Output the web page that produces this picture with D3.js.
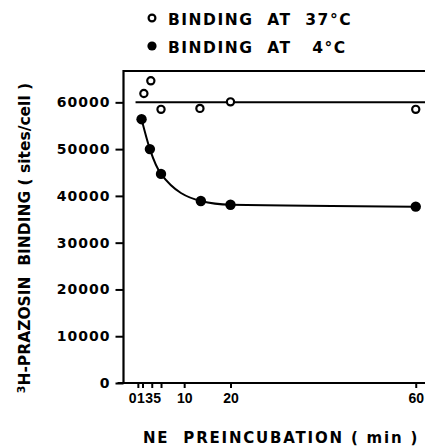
<!DOCTYPE html>
<html>
<head>
<meta charset="utf-8">
<script src="https://cdn.jsdelivr.net/npm/d3@7"></script>
<style>
  body { margin: 0; background: #fff; }
  svg text { font-family: "DejaVu Sans", sans-serif; font-weight: bold; fill: #000; }
</style>
</head>
<body>
<script>
"use strict"

// NE preincubation time (min) and 3H-prazosin binding (sites/cell)
const warmTimes = [1.3, 2.8, 5, 13.4, 20, 60];
const warmSites = [61900, 64600, 58500, 58700, 60100, 58500];
const coldTimes = [0.8, 2.6, 5, 13.6, 20, 60];
const coldSites = [56400, 50000, 44700, 38900, 38100, 37700];
const warmMean = 60000;

const xTicks = [0, 1, 3, 5, 10, 20, 60];
const yTicks = [0, 10000, 20000, 30000, 40000, 50000, 60000];
const legendLabels = ["BINDING  AT  37°C", "BINDING  AT   4°C"];

const w = 425;
const h = 447;
const padLeft = 123.5, padRight = 425, padTop = 71, padBottom = 383;

const svg = d3.select("body")
	.append("svg")
	.attr("width", w)
	.attr("height", h);

const xScale = d3.scaleLinear()
	.domain([-3.1, 62])
	.range([padLeft, padRight]);
const yScale = d3.scaleLinear()
	.domain([0, 66700])
	.range([padBottom, padTop]);

// axes
const xAxis = d3.axisBottom(xScale)
	.tickValues(xTicks)
	.tickSize(5)
	.tickPadding(5)
	.tickSizeOuter(0);
const gx = svg.append("g")
	.attr("transform", "translate(0," + padBottom + ")")
	.call(xAxis);
gx.select(".domain").remove();
gx.selectAll(".tick line").attr("stroke-width", 2);
// the crowded 0,1,3,5 labels sit a little to the left of their ticks
const labelShift = {0: -5.6, 1: -2.1, 3: -3.2, 5: -4.3};
gx.selectAll(".tick text")
	.attr("dx", d => labelShift[d] || 0)
	.style("font-size", "14px")
	.style("font-family", "'Liberation Sans', sans-serif")
	.style("font-weight", "bold");

const yAxis = d3.axisLeft(yScale)
	.tickValues(yTicks)
	.tickFormat(d3.format("d"))
	.tickSize(8)
	.tickPadding(5)
	.tickSizeOuter(0);
const gy = svg.append("g")
	.attr("transform", "translate(" + padLeft + ",0)")
	.call(yAxis);
gy.select(".domain").remove();
gy.selectAll(".tick line").attr("stroke-width", 2);
gy.selectAll(".tick text")
	.style("font-size", "14px")
	.style("letter-spacing", "1px");

// frame: left, top, bottom
svg.append("path")
	.attr("d", "M" + padRight + "," + padTop + "H" + padLeft + "V" + padBottom + "H" + (padLeft - 6) + "M" + padLeft + "," + padBottom + "H" + padRight)
	.attr("fill", "none")
	.attr("stroke", "#000")
	.attr("stroke-width", 2.2);

// 37 C mean line
svg.append("line")
	.attr("x1", xScale(-0.5))
	.attr("x2", xScale(62))
	.attr("y1", yScale(warmMean))
	.attr("y2", yScale(warmMean))
	.attr("stroke", "#000")
	.attr("stroke-width", 2);

// 4 C curve
const coldData = coldTimes.map((t, i) => [t, coldSites[i]]);
const warmData = warmTimes.map((t, i) => [t, warmSites[i]]);

svg.append("path")
	.datum(coldData)
	.attr("d", d3.line()
		.x(d => xScale(d[0]))
		.y(d => yScale(d[1]))
		.curve(d3.curveMonotoneX))
	.attr("fill", "none")
	.attr("stroke", "#000")
	.attr("stroke-width", 2);

svg.selectAll(".warm")
	.data(warmData)
	.enter()
	.append("circle")
	.attr("class", "warm")
	.attr("cx", d => xScale(d[0]))
	.attr("cy", d => yScale(d[1]))
	.attr("r", 3.6)
	.attr("fill", "#fff")
	.attr("stroke", "#000")
	.attr("stroke-width", 2.2);

svg.selectAll(".cold")
	.data(coldData)
	.enter()
	.append("circle")
	.attr("class", "cold")
	.attr("cx", d => xScale(d[0]))
	.attr("cy", d => yScale(d[1]))
	.attr("r", 5.2)
	.attr("fill", "#000");

// legend
const legend = svg.append("g");
legend.selectAll("circle")
	.data(legendLabels)
	.enter()
	.append("circle")
	.attr("cx", 152)
	.attr("cy", (d, i) => 18 + i * 28)
	.attr("r", (d, i) => i === 0 ? 3.4 : 4.6)
	.attr("fill", (d, i) => i === 0 ? "#fff" : "#000")
	.attr("stroke", "#000")
	.attr("stroke-width", (d, i) => i === 0 ? 2.2 : 0);
legend.selectAll("text")
	.data(legendLabels)
	.enter()
	.append("text")
	.attr("x", 168)
	.attr("y", (d, i) => 24.5 + i * 28)
	.attr("font-size", 15.5)
	.attr("letter-spacing", "1.5px")
	.style("white-space", "pre")
	.text(d => d);

// axis titles
svg.append("text")
	.attr("x", 281)
	.attr("y", 443)
	.attr("text-anchor", "middle")
	.attr("font-size", 15)
	.attr("letter-spacing", "1.8px")
	.style("white-space", "pre")
	.text("NE  PREINCUBATION ( min )");

const yTitle = svg.append("text")
	.attr("transform", "translate(30,238) rotate(-90)")
	.attr("text-anchor", "middle")
	.attr("font-size", 15.5)
	.style("white-space", "pre");
yTitle.append("tspan")
	.attr("font-size", 11)
	.attr("dy", -5)
	.text("3");
yTitle.append("tspan")
	.attr("dy", 5)
	.text("H-PRAZOSIN  BINDING ( sites/cell )");
</script>
</body>
</html>
